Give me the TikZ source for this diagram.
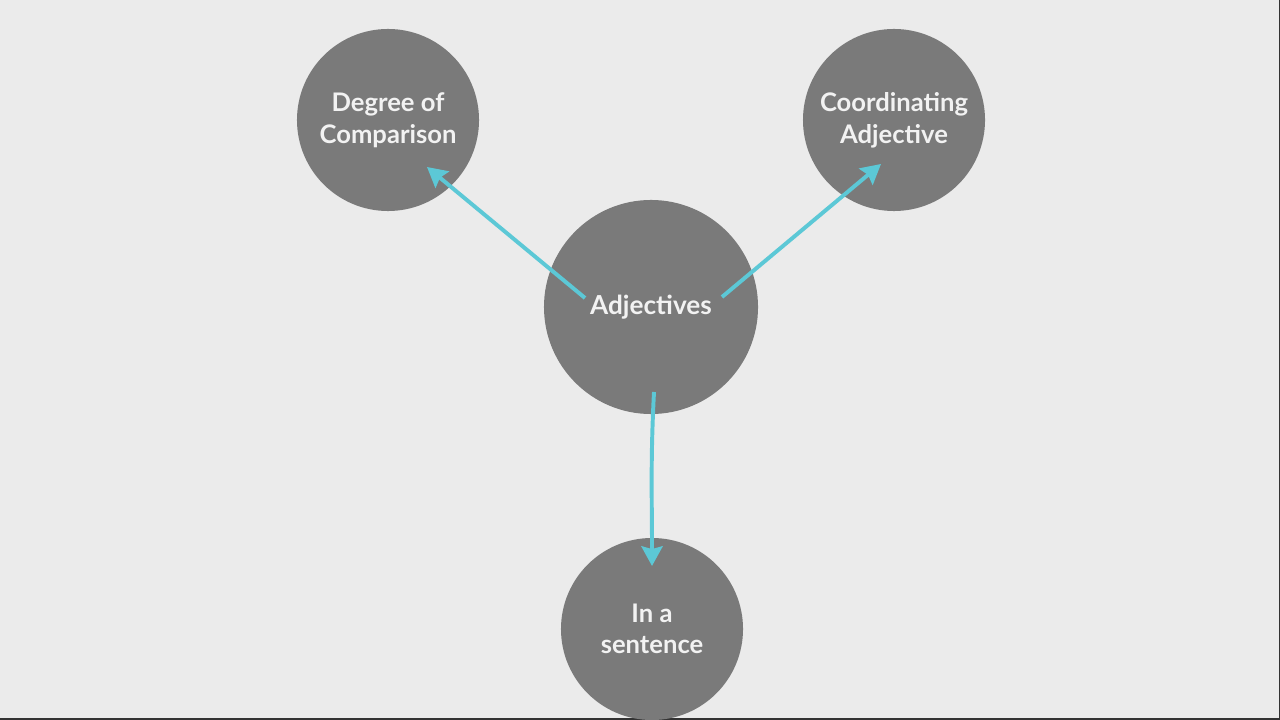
\documentclass[tikz,border=0pt]{standalone}
\usepackage{fontspec}
\setmainfont{Lato}
\usetikzlibrary{arrows.meta}
\definecolor{bg_grey}{RGB}{235, 235, 235}
\definecolor{node_grey}{RGB}{122, 122, 122}
\definecolor{arrow_cyan}{RGB}{92, 200, 214}
\definecolor{text_white}{RGB}{242, 242, 242}
\tikzstyle{bign}=[circle,fill=node_grey,draw=none,inner sep=0pt,
  minimum size=5.35cm,text=text_white,font=\bfseries\fontsize{18.6}{23}\selectfont,align=center]
\tikzstyle{smalln}=[circle,fill=node_grey,draw=none,inner sep=0pt,
  minimum size=4.55cm,text=text_white,font=\bfseries\fontsize{18.2}{22.5}\selectfont,align=center]
\tikzstyle{link}=[draw=arrow_cyan,line width=2.8pt,
  -{Stealth[length=14pt,width=15pt,inset=2pt]}]
\begin{document}
\begin{tikzpicture}[x=0.025cm,y=-0.025cm]
        \fill [bg_grey] (0,0) rectangle (1280,720);
        \useasboundingbox (0,0) rectangle (1280,720);
        \draw [black!80,line width=1.2pt] (0,719) -- (1280,719) -- (1280,0);
        \node [style=bign] (adj) at (651,307) {Adjectives};
        \node [style=smalln] (doc) at (388,120) {Degree of\\Comparison};
        \node [style=smalln] (coa) at (894,120) {Coordinating\\Adjective};
        \node [style=smalln] (ias) at (652,629) {In a\\sentence};
        \coordinate (s1) at (585,298);
        \coordinate (e1) at (427,167);
        \coordinate (s2) at (722,297);
        \coordinate (e2) at (881,164);
        \coordinate (s3) at (654,392);
        \coordinate (e3) at (652,566);
        \draw [style=link] (s1) to (e1);
        \draw [style=link] (s2) to (e2);
        \draw [style=link] (s3) to[out=-93,in=90] (e3);
    \end{tikzpicture}
\end{document}
